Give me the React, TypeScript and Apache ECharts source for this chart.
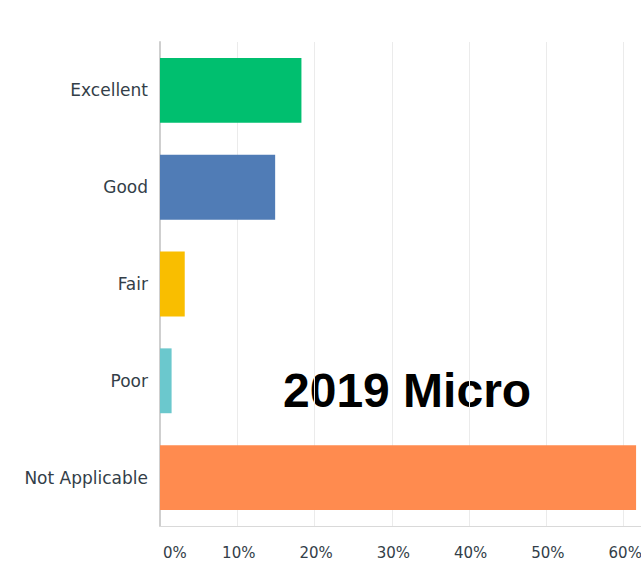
import React, { useEffect, useRef } from "react";
import * as echarts from "echarts";

const categories = ["Excellent", "Good", "Fair", "Poor", "Not Applicable"];
const values = [18.3, 14.9, 3.2, 1.5, 61.6];
const barColors = ["#00bf6f", "#507cb6", "#f9be00", "#6bc8cd", "#ff8b4f"];
const xTicks = [0, 10, 20, 30, 40, 50, 60, 70];
const title = "2019 Micro";

export default function App() {
  const ref = useRef<HTMLDivElement>(null);
  useEffect(() => {
    if (!ref.current) return;
    const chart = echarts.init(ref.current, undefined, { renderer: "svg" });
    const labelFont = "'DejaVu Sans', sans-serif";
    chart.setOption({
      animation: false,
      backgroundColor: "#ffffff",
      grid: {
        left: 160,
        top: 42,
        height: 484,
        width: 541,
        containLabel: false,
        outerBoundsMode: "none",
      },
      xAxis: {
        type: "value",
        min: xTicks[0],
        max: xTicks[xTicks.length - 1],
        interval: 10,
        axisLine: { show: true, lineStyle: { color: "#d9d9d9", width: 1 } },
        axisTick: { show: false },
        splitLine: { show: true, lineStyle: { color: "#ebebeb", width: 1 } },
        axisLabel: {
          formatter: "{value}%",
          color: "#333e48",
          fontSize: 15,
          fontFamily: labelFont,
          margin: 19,
          alignMinLabel: "left",
          padding: [0, 0, 0, 3],
        },
      },
      yAxis: {
        type: "category",
        data: categories,
        inverse: true,
        axisLine: { show: true, lineStyle: { color: "#cfcfcf", width: 2 } },
        axisTick: { show: false },
        axisLabel: {
          color: "#333e48",
          fontSize: 17,
          fontFamily: labelFont,
          margin: 12,
        },
      },
      series: [
        {
          type: "bar",
          data: values.map((v, i) => ({ value: v, itemStyle: { color: barColors[i] } })),
          barWidth: "67%",
        },
      ],
      graphic: [
        {
          type: "text",
          left: 283,
          top: 366,
          style: {
            text: title,
            font: "bold 48px 'Liberation Sans', Arial, sans-serif",
            fill: "#000000",
          },
        },
      ],
    });
    return () => chart.dispose();
  }, []);
  return (
    <div
      ref={ref}
      style={{ position: "fixed", left: 0, top: 0, width: 641, height: 567 }}
    />
  );
}
